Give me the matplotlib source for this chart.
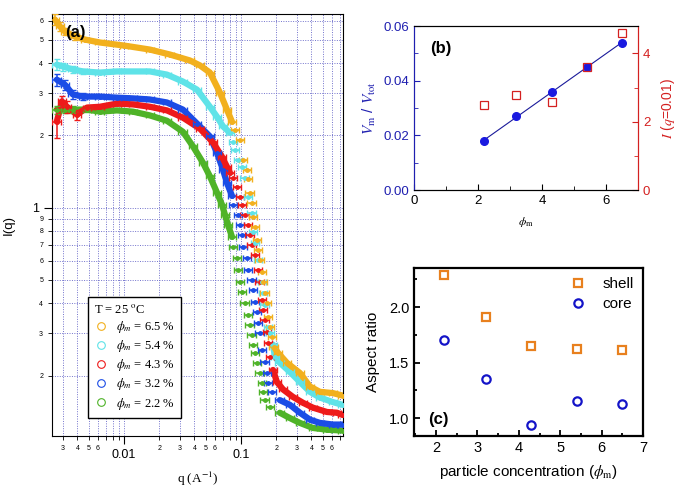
import numpy as np
import matplotlib
matplotlib.use('Agg')
import matplotlib.pyplot as plt
from matplotlib.ticker import LogLocator, FuncFormatter, MultipleLocator
from matplotlib.lines import Line2D

plt.rcParams['font.family'] = ['Liberation Sans', 'DejaVu Sans']
plt.rcParams['mathtext.fontset'] = 'stix'

# ---- panel (a): I(q) curves ----
q_y = [0.00257, 0.00284, 0.00313, 0.00381, 0.00464, 0.00623, 0.0100, 0.0167, 0.0247, 0.0366,
       0.0446, 0.0543, 0.0662, 0.0759, 0.0838, 0.0889, 0.098, 0.104, 0.1125, 0.115,
       0.119, 0.124, 0.127, 0.132, 0.137, 0.140, 0.145, 0.151, 0.154, 0.160,
       0.167, 0.170, 0.177, 0.184, 0.191, 0.207, 0.247, 0.319, 0.389, 0.473,
       0.611, 0.74]
I_y = [6.07, 5.68, 5.41, 5.16, 5.01, 4.87, 4.73, 4.55, 4.34, 4.10,
       3.91, 3.65, 3.01, 2.56, 2.28, 2.11, 1.92, 1.58, 1.44, 1.31,
       1.155, 1.05, 0.917, 0.833, 0.736, 0.668, 0.607, 0.541, 0.492, 0.442,
       0.402, 0.351, 0.319, 0.290, 0.264, 0.249, 0.226, 0.205, 0.180, 0.171,
       0.169, 0.165]
err_y = [0.3, 0.25, 0.2, 0.15]

q_c = [0.00267, 0.00301, 0.00366, 0.00447, 0.00623, 0.00871, 0.0167, 0.0233, 0.0319, 0.0421,
       0.0543, 0.0624, 0.0702, 0.0805, 0.0855, 0.0889, 0.0942, 0.102, 0.108, 0.115,
       0.124, 0.127, 0.132, 0.140, 0.151, 0.154, 0.160, 0.170, 0.177, 0.188,
       0.195, 0.215, 0.262, 0.319, 0.389, 0.473, 0.611, 0.74]
I_c = [3.94, 3.87, 3.76, 3.69, 3.65, 3.69, 3.69, 3.58, 3.35, 3.10,
       2.63, 2.39, 2.18, 2.05, 1.88, 1.74, 1.58, 1.47, 1.33, 1.11,
       0.953, 0.794, 0.715, 0.607, 0.492, 0.442, 0.394, 0.319, 0.302, 0.269,
       0.239, 0.226, 0.207, 0.188, 0.171, 0.162, 0.155, 0.151]
err_c = [0.2, 0.15, 0.12, 0.1]

q_r = [0.00267, 0.00295, 0.00326, 0.00397, 0.00483, 0.00623, 0.00871, 0.01194, 0.0167, 0.0233,
       0.0319, 0.0447, 0.0577, 0.0688, 0.0759, 0.0805, 0.0855, 0.0924, 0.098, 0.102,
       0.108, 0.115, 0.119, 0.124, 0.132, 0.140, 0.145, 0.151, 0.154, 0.160,
       0.167, 0.170, 0.177, 0.188, 0.203, 0.229, 0.278, 0.339, 0.412, 0.543,
       0.662, 0.74]
I_r = [2.28, 2.77, 2.63, 2.44, 2.61, 2.63, 2.71, 2.69, 2.63, 2.54,
       2.37, 2.13, 1.87, 1.63, 1.48, 1.40, 1.33, 1.22, 1.11, 1.03,
       0.935, 0.85, 0.772, 0.701, 0.637, 0.552, 0.492, 0.414, 0.376, 0.342,
       0.304, 0.274, 0.239, 0.211, 0.188, 0.175, 0.163, 0.154, 0.147, 0.141,
       0.140, 0.137]
err_r = [0.33, 0.15, 0.15, 0.12]

q_b = [0.00267, 0.00313, 0.00366, 0.00447, 0.00623, 0.00871, 0.01194, 0.0167, 0.0233, 0.0319,
       0.0421, 0.0543, 0.0624, 0.0702, 0.0759, 0.0838, 0.0855, 0.0942, 0.098, 0.102,
       0.104, 0.1125, 0.1148, 0.124, 0.127, 0.132, 0.137, 0.140, 0.145, 0.151,
       0.160, 0.167, 0.170, 0.184, 0.215, 0.262, 0.319, 0.389, 0.473, 0.611,
       0.74]
I_b = [3.41, 3.25, 2.96, 2.90, 2.90, 2.87, 2.85, 2.82, 2.74, 2.56,
       2.24, 1.98, 1.69, 1.44, 1.27, 1.12, 1.03, 0.935, 0.85, 0.772,
       0.688, 0.619, 0.552, 0.501, 0.455, 0.406, 0.369, 0.332, 0.302, 0.256,
       0.228, 0.205, 0.187, 0.170, 0.158, 0.151, 0.140, 0.131, 0.127, 0.125,
       0.125]
err_b = [0.2, 0.15, 0.12, 0.1]

q_g = [0.00267, 0.00313, 0.00366, 0.00483, 0.00623, 0.00871, 0.01194, 0.0167, 0.0233, 0.0319,
       0.0389, 0.0473, 0.0543, 0.0624, 0.0688, 0.0730, 0.0774, 0.0838, 0.0855, 0.0924,
       0.0942, 0.098, 0.102, 0.108, 0.115, 0.119, 0.124, 0.127, 0.132, 0.137,
       0.145, 0.151, 0.154, 0.160, 0.177, 0.215, 0.262, 0.319, 0.412, 0.543,
       0.74]
I_g = [2.56, 2.56, 2.56, 2.56, 2.51, 2.54, 2.51, 2.42, 2.30, 2.07,
       1.80, 1.54, 1.35, 1.155, 1.03, 0.935, 0.85, 0.757, 0.688, 0.619,
       0.552, 0.492, 0.447, 0.402, 0.358, 0.326, 0.296, 0.269, 0.249, 0.226,
       0.205, 0.187, 0.171, 0.158, 0.148, 0.140, 0.133, 0.127, 0.121, 0.119,
       0.118]
err_g = [0.1, 0.08, 0.08, 0.06]

col_y, col_c, col_r, col_b, col_g = '#F2B01E', '#5FE3E8', '#EE1A1A', '#1B4CE6', '#4FB328'
legend_labels = [r'$\phi_m$ = 6.5 %', r'$\phi_m$ = 5.4 %', r'$\phi_m$ = 4.3 %',
                 r'$\phi_m$ = 3.2 %', r'$\phi_m$ = 2.2 %']

# ---- panel (b) ----
phi_b = [2.2, 3.2, 4.3, 5.4, 6.5]
v_frac = [0.0179, 0.0271, 0.0360, 0.0449, 0.0538]
i_q001 = [2.49, 2.77, 2.58, 3.60, 4.60]

# ---- panel (c) ----
phi_c = [2.2, 3.2, 4.3, 5.4, 6.5]
ar_shell = [2.288, 1.907, 1.647, 1.623, 1.614]
ar_core = [1.70, 1.35, 0.94, 1.153, 1.13]


def main():
    fig = plt.figure(figsize=(6.9, 4.91), dpi=100)

    # panel (a)
    ax = fig.add_axes([0.0754, 0.112, 0.4217, 0.8595])
    ax.set_xscale('log')
    ax.set_yscale('log')
    ax.set_xlim(0.00243, 0.745)
    ax.set_ylim(0.112, 6.4)

    sets = [(q_g, I_g, err_g, col_g), (q_b, I_b, err_b, col_b), (q_r, I_r, err_r, col_r),
            (q_c, I_c, err_c, col_c), (q_y, I_y, err_y, col_y)]
    for q, I, err, col in sets:
        q = np.array(q)
        I = np.array(I)
        low = q < 0.084
        high = q > 0.185
        ax.plot(q[low], I[low], color=col, lw=4.5, solid_capstyle='round', zorder=2)
        ax.plot(q[high], I[high], color=col, lw=4.5, solid_capstyle='round', zorder=2)
        yerr = np.zeros_like(I)
        yerr[:len(err)] = err
        ax.errorbar(q, I, yerr=yerr, xerr=[q - q / 1.09, q * 0.09], fmt='o', ms=2.5,
                    color=col, elinewidth=1.1, capsize=2.5, zorder=3)

    ax.xaxis.set_major_locator(LogLocator(base=10, numticks=10))
    ax.xaxis.set_minor_locator(LogLocator(base=10, subs=np.arange(2, 10), numticks=20))
    ax.yaxis.set_major_locator(LogLocator(base=10, numticks=10))
    ax.yaxis.set_minor_locator(LogLocator(base=10, subs=np.arange(2, 10), numticks=20))

    def major_fmt(v, pos):
        return '{:g}'.format(v)

    def minor_x(v, pos):
        d = int(round(v / 10 ** np.floor(np.log10(v) + 1e-9)))
        return str(d) if d <= 6 else ''

    def minor_y(v, pos):
        d = int(round(v / 10 ** np.floor(np.log10(v) + 1e-9)))
        return str(d)

    ax.xaxis.set_major_formatter(FuncFormatter(major_fmt))
    ax.yaxis.set_major_formatter(FuncFormatter(major_fmt))
    ax.xaxis.set_minor_formatter(FuncFormatter(minor_x))
    ax.yaxis.set_minor_formatter(FuncFormatter(minor_y))
    ax.tick_params(which='major', direction='out', length=6, labelsize=9)
    ax.tick_params(which='minor', direction='out', length=3, labelsize=5)
    ax.grid(True, which='both', ls=(0, (1, 1.5)), color='#7272cc', lw=0.7)
    ax.set_axisbelow(True)
    ax.set_xlabel(r'q (A$^{-1}$)', family='Liberation Serif', fontsize=9.5, labelpad=6)
    ax.set_ylabel('I(q)', fontsize=9.5, labelpad=12)
    ax.text(0.045, 0.957, '(a)', transform=ax.transAxes, fontsize=12, fontweight='bold',
            va='center', ha='left', zorder=5)

    handles = [Line2D([], [], ls='none', marker='o', mfc='none', mec=c, ms=5.5, mew=0.8)
               for c in [col_y, col_c, col_r, col_b, col_g]]
    leg = ax.legend(handles, legend_labels, title=r'T = 25 $^{\rm o}$C', loc='lower left',
                    bbox_to_anchor=(0.124, 0.043), prop={'family': 'Liberation Serif', 'size': 9},
                    title_fontproperties={'family': 'Liberation Serif', 'size': 9},
                    alignment='left', frameon=True, fancybox=False, edgecolor='black',
                    framealpha=1, borderpad=0.5, handletextpad=0.7, labelspacing=0.25,
                    handlelength=1.0, borderaxespad=0)
    leg.get_frame().set_linewidth(1.0)
    leg.set_zorder(6)

    # panel (b)
    blue = '#1f1fb0'
    red = '#d42020'
    bx = fig.add_axes([0.6, 0.613, 0.3246, 0.334])
    bx.plot(phi_b, v_frac, 'o', color='#1a1ae0', ms=5.5, zorder=3)
    fit = np.polyfit(phi_b, v_frac, 1)
    bx.plot(phi_b, np.polyval(fit, phi_b), color='#1a1a9a', lw=0.8, zorder=2)
    bx.set_xlim(0, 7)
    bx.set_ylim(0, 0.06)
    bx.xaxis.set_major_locator(MultipleLocator(2))
    bx.xaxis.set_minor_locator(MultipleLocator(1))
    bx.yaxis.set_major_locator(MultipleLocator(0.02))
    bx.yaxis.set_minor_locator(MultipleLocator(0.01))
    bx.yaxis.set_major_formatter(FuncFormatter(lambda v, p: '{:.2f}'.format(v)))
    bx.tick_params(which='both', direction='in', labelsize=9.5)
    bx.tick_params(axis='y', which='both', colors=blue)
    bx.tick_params(which='major', length=4)
    bx.tick_params(which='minor', length=3)
    bx.spines['left'].set_color(blue)
    bx.spines['right'].set_color(red)
    bx.set_xlabel(r'$\phi_\mathrm{m}$', fontsize=8.5, labelpad=6)
    bx.set_ylabel(r'$V_\mathrm{m}$ / $V_\mathrm{tot}$', color=blue, fontsize=11, labelpad=4)
    bx.text(0.07, 0.86, '(b)', transform=bx.transAxes, fontsize=12, fontweight='bold',
            va='center', ha='left')

    bx2 = bx.twinx()
    bx2.plot(phi_b, i_q001, 's', mfc='none', mec=red, ms=5.5, mew=0.9)
    bx2.set_ylim(0, 4.8)
    bx2.yaxis.set_major_locator(MultipleLocator(2))
    bx2.yaxis.set_minor_locator(MultipleLocator(1))
    bx2.tick_params(which='both', direction='in', labelsize=9.5, colors=red)
    bx2.tick_params(which='major', length=4)
    bx2.tick_params(which='minor', length=3)
    bx2.spines['right'].set_color(red)
    bx2.spines['left'].set_color(blue)
    bx2.set_ylabel(r'$I$ ($q$=0.01)', color=red, fontsize=10, labelpad=6)

    # panel (c)
    cx = fig.add_axes([0.6, 0.112, 0.332, 0.342])
    cx.plot(phi_c, ar_shell, 's', mfc='none', mec='#e8801e', ms=5.5, mew=1.6, label='shell')
    cx.plot(phi_c, ar_core, 'o', mfc='none', mec='#1414c8', ms=6, mew=1.6, label='core')
    cx.set_xlim(1.47, 7.0)
    cx.set_ylim(0.84, 2.35)
    cx.xaxis.set_major_locator(MultipleLocator(1))
    cx.xaxis.set_minor_locator(MultipleLocator(0.5))
    cx.yaxis.set_major_locator(MultipleLocator(0.5))
    cx.yaxis.set_minor_locator(MultipleLocator(0.25))
    cx.yaxis.set_major_formatter(FuncFormatter(lambda v, p: '{:.1f}'.format(v)))
    cx.tick_params(which='both', direction='in', labelsize=10.5, width=1.3)
    cx.tick_params(which='major', length=4)
    cx.tick_params(which='minor', length=2.5)
    for s in cx.spines.values():
        s.set_linewidth(1.6)
    cx.set_xlabel(r'particle concentration ($\phi_\mathrm{m}$)', fontsize=11, labelpad=6)
    cx.set_ylabel('Aspect ratio', fontsize=11, labelpad=6)
    cx.legend(loc='upper right', frameon=False, fontsize=11, handletextpad=1.0,
              labelspacing=0.4, borderaxespad=0.2, handlelength=1.2)
    cx.text(0.06, 0.1, '(c)', transform=cx.transAxes, fontsize=12, fontweight='bold',
            va='center', ha='left')

    fig.savefig('out.png', dpi=100)


if __name__ == '__main__':
    main()
